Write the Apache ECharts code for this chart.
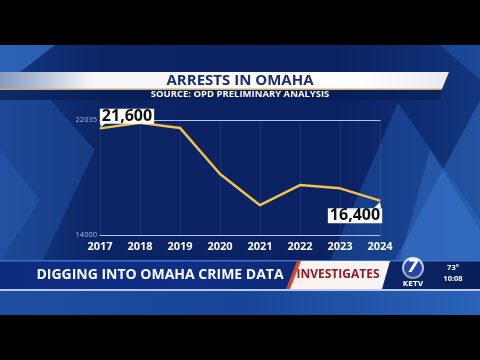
<!DOCTYPE html>
<html><head><meta charset="utf-8">
<script src="https://cdn.jsdelivr.net/npm/echarts@6/dist/echarts.min.js"></script>
<style>html,body{margin:0;padding:0;background:#000}#c{width:480px;height:360px}</style>
</head><body><div id="c"></div>
<script>
const years = ['2017','2018','2019','2020','2021','2022','2023','2024'];
const arrests = [21450, 21850, 21480, 18260, 16080, 17490, 17260, 16400];
const yTicks = [14000, 22035];
const calloutText = ['21,600', '', '', '', '', '', '', '16,400'];
const titleText = 'ARRESTS IN OMAHA';
const subtitleText = 'SOURCE: OPD PRELIMINARY ANALYSIS';
const bannerText = 'DIGGING INTO OMAHA CRIME DATA';
const tagText = 'INVESTIGATES';

const chart = echarts.init(document.getElementById('c'), null, {renderer:'canvas'});
const calloutOffsets = {0:[27,-12], 7:[-25,15]};
const seriesData = arrests.map((v,i)=> calloutText[i] ? {
  value: v,
  label: {show:true, formatter: calloutText[i], position:'inside', offset: calloutOffsets[i] || [0,-14],
    backgroundColor:'#ffffff', color:'#111', fontFamily:'Open Sans', fontWeight:'bold', fontSize:16,
    padding:[0,2,-1,2], lineHeight:16, align:'center', verticalAlign:'middle'}
} : v);

const F = 'Open Sans';
const graphics = [
  {type:'rect', shape:{x:0,y:0,width:480,height:360}, style:{fill:'#000'}, z:-20},
  {type:'rect', shape:{x:0,y:45,width:480,height:270}, style:{fill:new echarts.graphic.LinearGradient(0,0,1,0,[{offset:0,color:'#143a85'},{offset:0.22,color:'#0b2463'},{offset:0.7,color:'#0a2262'},{offset:1,color:'#12367e'}])}, z:-19},
  // left lighter areas
  {type:'polygon', shape:{points:[[0,45],[55,45],[20,72],[0,72]]}, style:{fill:'rgba(70,140,230,0.5)'}, z:-18},
  {type:'polygon', shape:{points:[[0,100],[50,100],[95,150],[43,260],[0,260]]}, style:{fill:'rgba(45,100,185,0.35)'}, z:-18},
  {type:'polygon', shape:{points:[[0,150],[40,200],[0,260]]}, style:{fill:'rgba(60,120,210,0.2)'}, z:-18},
  // right triangles
  {type:'polygon', shape:{points:[[398,103],[480,220],[480,260],[330,260]]}, style:{fill:'rgba(40,100,190,0.4)'}, z:-18},
  {type:'polygon', shape:{points:[[480,100],[480,260],[395,260]]}, style:{fill:'rgba(60,125,215,0.4)'}, z:-18},
  {type:'polygon', shape:{points:[[430,150],[480,230],[480,260],[400,260]]}, style:{fill:'rgba(80,145,230,0.25)'}, z:-18},
  {type:'polygon', shape:{points:[[440,45],[480,45],[480,80]]}, style:{fill:'rgba(50,110,200,0.35)'}, z:-18},
  // title band
  {type:'polygon', shape:{points:[[0,72],[449,72],[442,89],[0,89]]}, style:{fill:new echarts.graphic.LinearGradient(0,0,1,0,[{offset:0,color:'rgba(230,235,245,0.55)'},{offset:0.2,color:'#f4f5f8'},{offset:0.8,color:'#ffffff'},{offset:1,color:'#e8eaf0'}])}, z:-10},
  {type:'polygon', shape:{points:[[0,88.5],[442,88.5],[441.5,90],[0,90]]}, style:{fill:'#c9ab6a'}, z:-9},
  {type:'rect', shape:{x:0,y:90,width:441,height:10}, style:{fill:'rgba(8,25,75,0.5)'}, z:-10},
  {type:'text', x:240, y:81, style:{text:titleText, font:'bold 15px "Open Sans"', fill:'#1b2f6e', align:'center', verticalAlign:'middle'}, z:5},
  {type:'text', x:240, y:94.5, style:{text:subtitleText, font:'bold 9.5px "Open Sans"', fill:'#ffffff', align:'center', verticalAlign:'middle'}, z:5},
  // lower band
  {type:'rect', shape:{x:0,y:260,width:480,height:29}, style:{fill:new echarts.graphic.LinearGradient(0,0,1,0,[{offset:0,color:'#0c2c80'},{offset:0.4,color:'#0f2f86'},{offset:1,color:'#0a1f58'}])}, z:-8},
  {type:'rect', shape:{x:0,y:260,width:480,height:1.5}, style:{fill:'#3e6fc8'}, z:-7},
  {type:'rect', shape:{x:0,y:289,width:480,height:2}, style:{fill:'#b9c9ec'}, z:-7},
  {type:'rect', shape:{x:0,y:291,width:480,height:24}, style:{fill:new echarts.graphic.LinearGradient(0,0,1,0,[{offset:0,color:'#1d4fa0'},{offset:0.5,color:'#174598'},{offset:1,color:'#2a63b8'}])}, z:-8},
  {type:'text', x:160, y:275, style:{text:bannerText, font:'bold 14px "Open Sans"', fill:'#ffffff', align:'center', verticalAlign:'middle'}, z:5},
  {type:'polygon', shape:{points:[[300,261],[390,261],[382,289],[289,289]]}, style:{fill:new echarts.graphic.LinearGradient(0,0,1,0,[{offset:0,color:'#fbf3ea'},{offset:1,color:'#f4f4f6'}])}, z:2},
  {type:'polygon', shape:{points:[[297,261],[301,261],[290,289],[286,289]]}, style:{fill:'#d8432e'}, z:3},
  {type:'text', x:338, y:275, style:{text:tagText, font:'bold 12px "Open Sans"', fill:'#8c1a2c', align:'center', verticalAlign:'middle'}, z:5},
  // logo
  {type:'circle', shape:{cx:413,cy:268,r:11}, style:{fill:new echarts.graphic.LinearGradient(0,0,0,1,[{offset:0,color:'#e8ecf4'},{offset:1,color:'#8f9ab0'}])}, z:5},
  {type:'circle', shape:{cx:413,cy:268,r:9}, style:{fill:'#2546a8'}, z:6},
  {type:'text', x:413, y:268, style:{text:'7', font:'bold italic 17px "DejaVu Sans"', fill:'#ffffff', align:'center', verticalAlign:'middle'}, z:7},
  {type:'text', x:413, y:284, style:{text:'KETV', font:'bold 7px "DejaVu Sans"', fill:'#ffffff', align:'center', verticalAlign:'middle'}, z:7},
  {type:'text', x:453, y:268, style:{text:'73°', font:'bold 7.5px "Open Sans"', fill:'#ffffff', align:'center', verticalAlign:'middle'}, z:7},
  {type:'text', x:453, y:279, style:{text:'10:08', font:'bold 7.5px "Open Sans"', fill:'#ffffff', align:'center', verticalAlign:'middle'}, z:7},
  // callout pointers
  {type:'polygon', shape:{points:[[100,123],[106,123],[101,127]]}, style:{fill:'#ffffff'}, z:20},
  {type:'polygon', shape:{points:[[374,208],[381,208],[380,202]]}, style:{fill:'#ffffff'}, z:20}
];

chart.setOption({
  backgroundColor:'transparent',
  animation:false,
  graphic: graphics,
  grid:{left:100, right:100, top:120, bottom:125, containLabel:false},
  xAxis:[{
    type:'category', data: years, boundaryGap:false,
    axisLine:{show:true, lineStyle:{color:'#b8c2ea', width:1}},
    axisTick:{show:false},
    axisLabel:{color:'#ffffff', fontFamily:F, fontWeight:'bold', fontSize:11, margin:6},
    splitLine:{show:true, lineStyle:{color:'rgba(150,170,230,0.12)'}}
  },{
    type:'category', data: years, boundaryGap:false, position:'top',
    axisLine:{show:true, lineStyle:{color:'#b8c2ea', width:1}},
    axisTick:{show:false}, axisLabel:{show:false}, splitLine:{show:false}
  }],
  yAxis:{
    type:'value', min: yTicks[0], max: yTicks[yTicks.length-1],
    axisLine:{show:false}, axisTick:{show:false}, splitLine:{show:false},
    axisLabel:{customValues: yTicks, color:'#aab8e2', fontFamily:F, fontSize:7.5, margin:3, showMinLabel:true, showMaxLabel:true,
      formatter: v => String(v)}
  },
  series:[{
    type:'line', data: seriesData, xAxisIndex:0,
    symbol:'circle', symbolSize:1,
    itemStyle:{color:'#f2c24a'},
    lineStyle:{color:'#f2c24a', width:2.5},
    label:{show:false}, z:10
  }]
});
</script></body></html>
